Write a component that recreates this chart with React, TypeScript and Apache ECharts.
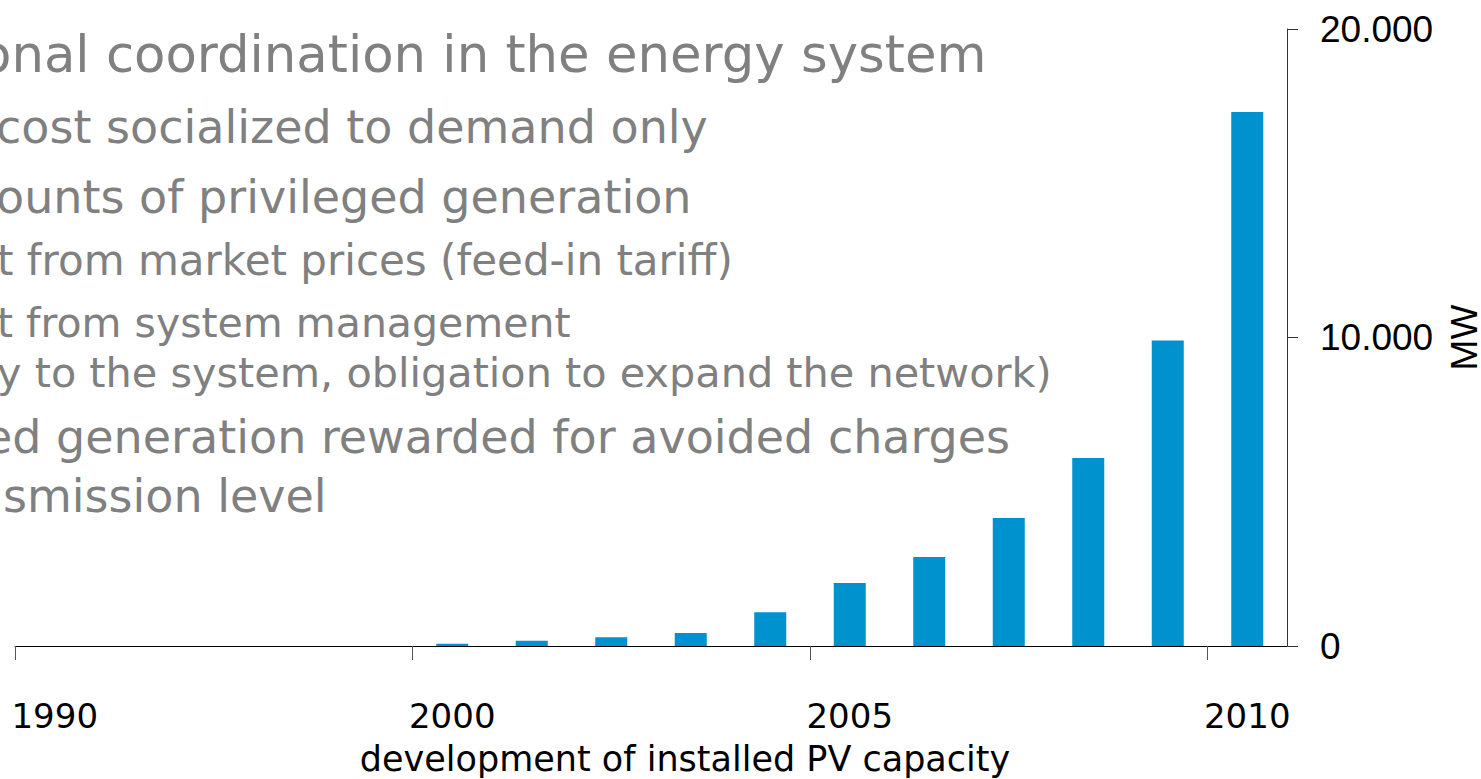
import { useEffect, useRef } from "react";
import * as echarts from "echarts";

// ---- data ----
const years = ["1990", "1992", "1994", "1996", "1998", "2000", "2001", "2002", "2003", "2004", "2005", "2006", "2007", "2008", "2009", "2010"];
const capacityMW = [null, null, null, null, null, 70, 172, 282, 422, 1094, 2041, 2883, 4146, 6090, 9900, 17310];
const shownYearLabels = ["1990", "2000", "2005", "2010"];
const yMin = 0;
const yMax = 20000;
const yStep = 10000;
const xAxisTitle = "development of installed PV capacity";
const yAxisTitle = "MW";
const slideLines = [
  "onal coordination in the energy system",
  "cost socialized to demand only",
  "ounts of privileged generation",
  "t from market prices (feed-in tariff)",
  "t from system management",
  "y to the system, obligation to expand the network)",
  "ed generation rewarded for avoided charges",
  "smission level",
];

// layout of the slide text lines: x, middle y, font size
const lineLayout: [number, number, number][] = [
  [-20, 54.4, 51.3],
  [-4, 127, 46],
  [-4, 197, 46],
  [-3, 260.5, 42],
  [-3, 322.5, 41],
  [-3, 372.5, 41.4],
  [-16, 437, 46],
  [3, 496, 46],
];

const fmt = (v: number) => String(v).replace(/\B(?=(\d{3})+(?!\d))/g, ".");

export default function App() {
  const ref = useRef<HTMLDivElement>(null);
  useEffect(() => {
    const el = ref.current!;
    const chart = echarts.init(el, null, { renderer: "svg" });
    const gridLeft = 15;
    const gridRight = 194;
    const gridTop = 29;
    const gridBottom = 133;
    const axisX = 1481 - gridRight;
    const axisY = 779 - gridBottom;

    const textEls = slideLines.map((t, i) => ({
      type: "text",
      x: lineLayout[i][0],
      y: lineLayout[i][1],
      z: 10,
      style: {
        text: t,
        fontSize: lineLayout[i][2],
        fontFamily: "DejaVu Sans",
        fill: "#808080",
        align: "left",
        verticalAlign: "middle",
      },
    }));

    chart.setOption({
      animation: false,
      backgroundColor: "#ffffff",
      grid: {
        left: gridLeft,
        right: gridRight,
        top: gridTop,
        bottom: gridBottom,
        containLabel: false,
        outerBoundsMode: "none",
      },
      xAxis: {
        type: "category",
        data: years,
        boundaryGap: true,
        name: xAxisTitle,
        nameLocation: "middle",
        nameGap: 95,
        nameTextStyle: { fontFamily: "DejaVu Sans", fontSize: 35, color: "#000000", padding: [0, 0, 0, 68] },
        axisLine: { show: true, lineStyle: { color: "#000000", width: 1 } },
        axisTick: {
          show: true,
          length: 14,
          interval: (idx: number) => shownYearLabels.includes(years[idx]),
          lineStyle: { color: "#555555", width: 1 },
        },
        axisLabel: {
          interval: (idx: number) => shownYearLabels.includes(years[idx]),
          fontFamily: "DejaVu Sans",
          fontSize: 34,
          color: "#000000",
          margin: 53,
        },
        splitLine: { show: false },
      },
      yAxis: {
        type: "value",
        position: "right",
        min: yMin,
        max: yMax,
        interval: yStep,
        name: yAxisTitle,
        nameLocation: "middle",
        nameRotate: 90,
        nameGap: 159,
        nameTextStyle: { fontFamily: "Liberation Sans", fontSize: 37, color: "#000000" },
        axisLine: { show: true, lineStyle: { color: "#333333", width: 1 } },
        axisTick: { show: true, inside: false, length: 11, lineStyle: { color: "#333333", width: 1 } },
        axisLabel: {
          formatter: (v: number) => fmt(v),
          fontFamily: "Liberation Sans",
          fontSize: 37,
          color: "#000000",
          margin: 33,
        },
        splitLine: { show: false },
      },
      series: [{ type: "bar", data: capacityMW, barWidth: 32, itemStyle: { color: "#0091CF" } }],
      graphic: [
        ...textEls,
        // hide the extra category-boundary tick at the right end of the x axis
        { type: "rect", z: 100, shape: { x: axisX - 3, y: axisY + 1, width: 6, height: 18 }, style: { fill: "#ffffff" } },
      ],
    });
    return () => chart.dispose();
  }, []);
  return (
    <div
      ref={ref}
      style={{ position: "fixed", left: 0, top: 0, width: 1481, height: 779, background: "#ffffff" }}
    />
  );
}
